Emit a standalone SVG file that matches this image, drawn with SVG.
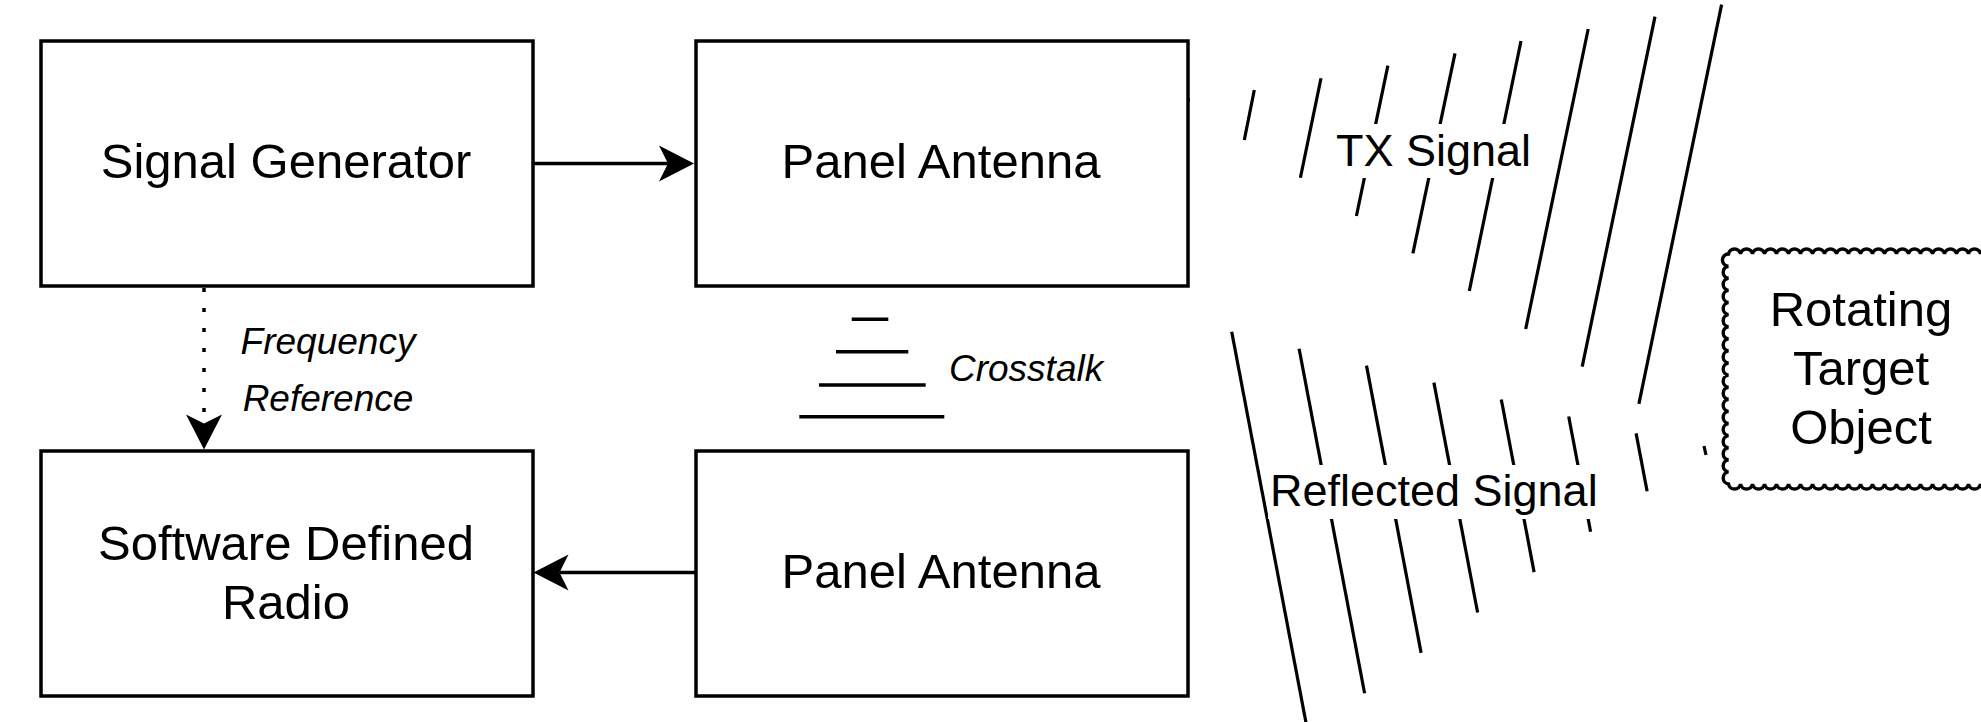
<svg xmlns="http://www.w3.org/2000/svg" width="1981" height="722" viewBox="0 0 1981 722">
  <style>
    .box { fill: #ffffff; stroke: #000000; stroke-width: 3.5; }
    .lbl { font-family: "Liberation Sans", Arial, Helvetica, sans-serif; font-size: 49px; fill: #000000; text-anchor: middle; }
    .wave-lbl { font-family: "Liberation Sans", Arial, Helvetica, sans-serif; font-size: 45px; fill: #000000; text-anchor: middle; }
    .edge-lbl { font-family: "Liberation Sans", Arial, Helvetica, sans-serif; font-size: 37px; font-style: italic; fill: #000000; }
    .conn { fill: none; stroke: #000000; stroke-width: 3.5; }
    .dotted { stroke-dasharray: 4 16; }
    .wave { fill: none; stroke: #000000; stroke-width: 3.2; }
    .bg { fill: #ffffff; stroke: none; }
  </style>
  <defs>
    <!-- classic arrowhead; origin sits at the notch so the line ends inside the head -->
    <marker id="arrow" markerUnits="userSpaceOnUse" viewBox="-10 -19 37 38" markerWidth="37" markerHeight="38" refX="0" refY="0" orient="auto" overflow="visible">
      <path d="M26,0 L-9,-18 L0,0 L-9,18 Z" fill="#000000" stroke="none"/>
    </marker>
  </defs>

  <rect width="1981" height="722" fill="#ffffff"/>

  <!-- transmitted wavefronts -->
  <g id="tx-waves" class="wave">
    <line x1="1188.5" y1="98" x2="1187" y2="105"/>
    <line x1="1254.3" y1="90" x2="1244.3" y2="140"/>
    <line x1="1321" y1="78.3" x2="1300.4" y2="177.7"/>
    <line x1="1387.9" y1="65.7" x2="1356.4" y2="216"/>
    <line x1="1455" y1="53.3" x2="1412.9" y2="253.3"/>
    <line x1="1521" y1="41" x2="1469.3" y2="291"/>
    <line x1="1588.2" y1="29" x2="1525.7" y2="329"/>
    <line x1="1655" y1="16.7" x2="1582.2" y2="366.7"/>
    <line x1="1721.6" y1="4.6" x2="1638.9" y2="403.9"/>
  </g>

  <!-- reflected wavefronts -->
  <g id="rx-waves" class="wave">
    <line x1="1231.7" y1="331.7" x2="1308.1" y2="733.7"/>
    <line x1="1299.1" y1="348.7" x2="1364.6" y2="693.3"/>
    <line x1="1366.5" y1="365.6" x2="1421.1" y2="652.9"/>
    <line x1="1433.9" y1="382.6" x2="1477.6" y2="612.5"/>
    <line x1="1501.3" y1="399.5" x2="1534.1" y2="572.1"/>
    <line x1="1568.7" y1="416.5" x2="1590.6" y2="531.7"/>
    <line x1="1636.1" y1="433.4" x2="1647.1" y2="491.3"/>
    <line x1="1704" y1="446" x2="1706" y2="455"/>
  </g>

  <g id="tx-label">
    <rect class="bg" x="1333" y="124" width="202" height="54"/>
    <text class="wave-lbl" x="1433.5" y="165.5">TX Signal</text>
  </g>
  <g id="rx-label">
    <rect class="bg" x="1268" y="465" width="332" height="54"/>
    <text class="wave-lbl" x="1433.8" y="505.5">Reflected Signal</text>
  </g>

  <!-- crosstalk between the two antennas -->
  <g id="crosstalk" stroke="#000000" stroke-width="3.5">
    <line x1="851.7" y1="319.3" x2="888.3" y2="319.3"/>
    <line x1="836" y1="351.7" x2="908.3" y2="351.7"/>
    <line x1="819" y1="385" x2="925.7" y2="385"/>
    <line x1="799.3" y1="416.7" x2="944.3" y2="416.7"/>
    <text class="edge-lbl" x="949" y="381" stroke="none">Crosstalk</text>
  </g>

  <g id="connectors">
    <path class="conn" d="M533,163.5 H668" marker-end="url(#arrow)"/>
    <path class="conn" d="M696,572.5 H559.5" marker-end="url(#arrow)"/>
    <path class="conn dotted" d="M204,288 V423.5" marker-end="url(#arrow)"/>
    <text class="edge-lbl" x="328" y="354" text-anchor="middle">Frequency</text>
    <text class="edge-lbl" x="328" y="411" text-anchor="middle">Reference</text>
  </g>

  <g id="signal-generator">
    <rect class="box" x="41" y="41" width="492" height="245"/>
    <text class="lbl" x="286" y="178">Signal Generator</text>
  </g>
  <g id="panel-antenna-tx">
    <rect class="box" x="696" y="41" width="492" height="245"/>
    <text class="lbl" x="941" y="178">Panel Antenna</text>
  </g>
  <g id="software-defined-radio">
    <rect class="box" x="41" y="451" width="492" height="245"/>
    <text class="lbl" x="286" y="560">Software Defined</text>
    <text class="lbl" x="286" y="619">Radio</text>
  </g>
  <g id="panel-antenna-rx">
    <rect class="box" x="696" y="451" width="492" height="245"/>
    <text class="lbl" x="941" y="588">Panel Antenna</text>
  </g>

  <g id="rotating-target">
    <path fill="#ffffff" stroke="#000000" stroke-width="3.4" d="M1728.5,484
      a6.1,6.1 0 0 1 0,-12.1 a6.1,6.1 0 0 1 0,-12.1 a6.1,6.1 0 0 1 0,-12.1 a6.1,6.1 0 0 1 0,-12.1
      a6.1,6.1 0 0 1 0,-12.1 a6.1,6.1 0 0 1 0,-12.1 a6.1,6.1 0 0 1 0,-12.1 a6.1,6.1 0 0 1 0,-12.1
      a6.1,6.1 0 0 1 0,-12.1 a6.1,6.1 0 0 1 0,-12.1 a6.1,6.1 0 0 1 0,-12.1 a6.1,6.1 0 0 1 0,-12.1
      a6.1,6.1 0 0 1 0,-12.1 a6.1,6.1 0 0 1 0,-12.1 a6.1,6.1 0 0 1 0,-12.1 a6.1,6.1 0 0 1 0,-12.1
      a6.1,6.1 0 0 1 0,-12.1 a6.1,6.1 0 0 1 0,-12.1 a6.1,6.1 0 0 1 0,-12.2
      a6.1,6.1 0 0 1 12,0 a6.1,6.1 0 0 1 12,0 a6.1,6.1 0 0 1 12,0 a6.1,6.1 0 0 1 12,0
      a6.1,6.1 0 0 1 12,0 a6.1,6.1 0 0 1 12,0 a6.1,6.1 0 0 1 12,0 a6.1,6.1 0 0 1 12,0
      a6.1,6.1 0 0 1 12,0 a6.1,6.1 0 0 1 12,0 a6.1,6.1 0 0 1 12,0 a6.1,6.1 0 0 1 12,0
      a6.1,6.1 0 0 1 12,0 a6.1,6.1 0 0 1 12,0 a6.1,6.1 0 0 1 12,0 a6.1,6.1 0 0 1 12,0
      a6.1,6.1 0 0 1 12,0 a6.1,6.1 0 0 1 12,0 a6.1,6.1 0 0 1 12,0 a6.1,6.1 0 0 1 12,0
      a6.1,6.1 0 0 1 12,0 a6.1,6.1 0 0 1 12,0 a6.1,6.1 0 0 1 12,0
      L2010,254 L2010,484 L1992.5,484
      a6.1,6.1 0 0 1 -12,0 a6.1,6.1 0 0 1 -12,0 a6.1,6.1 0 0 1 -12,0 a6.1,6.1 0 0 1 -12,0
      a6.1,6.1 0 0 1 -12,0 a6.1,6.1 0 0 1 -12,0 a6.1,6.1 0 0 1 -12,0 a6.1,6.1 0 0 1 -12,0
      a6.1,6.1 0 0 1 -12,0 a6.1,6.1 0 0 1 -12,0 a6.1,6.1 0 0 1 -12,0 a6.1,6.1 0 0 1 -12,0
      a6.1,6.1 0 0 1 -12,0 a6.1,6.1 0 0 1 -12,0 a6.1,6.1 0 0 1 -12,0 a6.1,6.1 0 0 1 -12,0
      a6.1,6.1 0 0 1 -12,0 a6.1,6.1 0 0 1 -12,0 a6.1,6.1 0 0 1 -12,0 a6.1,6.1 0 0 1 -12,0
      a6.1,6.1 0 0 1 -12,0 a6.1,6.1 0 0 1 -12,0 Z"/>
    <text class="lbl" x="1861" y="326">Rotating</text>
    <text class="lbl" x="1861" y="385">Target</text>
    <text class="lbl" x="1861" y="444">Object</text>
  </g>
</svg>
